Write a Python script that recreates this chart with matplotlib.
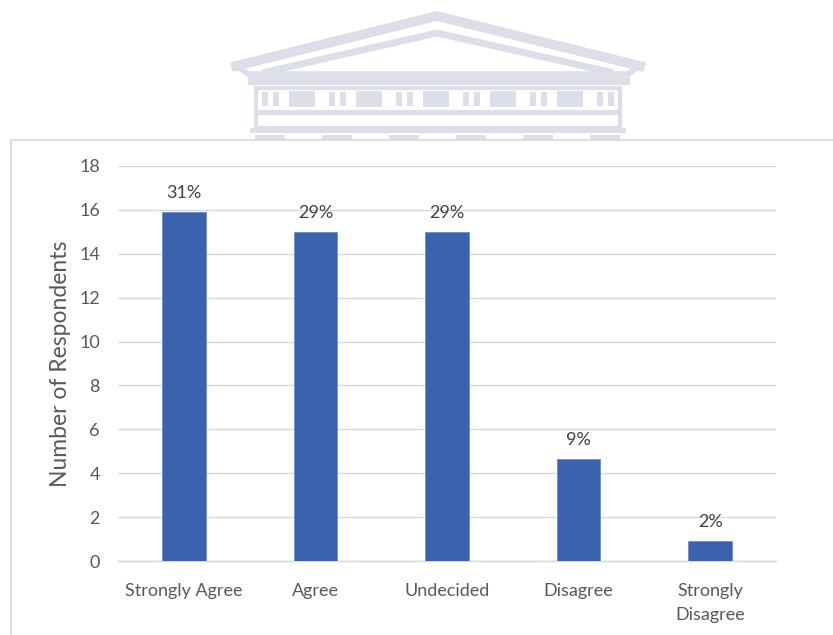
import matplotlib
matplotlib.use("Agg")
import matplotlib.pyplot as plt
from matplotlib.patches import Rectangle
from matplotlib.lines import Line2D

categories = ["Strongly Agree", "Agree", "Undecided", "Disagree", "Strongly\nDisagree"]
values = [15.9, 15.0, 15.0, 4.65, 0.93]
pct_labels = ["31%", "29%", "29%", "9%", "2%"]
yticks = [0, 2, 4, 6, 8, 10, 12, 14, 16, 18]

W, H = 833, 635
fig = plt.figure(figsize=(W / 100, H / 100), dpi=100)
plt.rcParams['font.family'] = ['Lato', 'DejaVu Sans']

# --- faint watermark (decorative) in pixel coordinates ---
wm = "#dcdfea"
def px(x, y):
    return (x / W, 1 - y / H)

def line(pts, lw):
    xs = [px(*p)[0] for p in pts]
    ys = [px(*p)[1] for p in pts]
    fig.add_artist(Line2D(xs, ys, color=wm, lw=lw, solid_joinstyle='miter', zorder=0))

def rect(x0, y0, x1, y1, fill=True, lw=0):
    (fx0, fy1) = px(x0, y0)
    (fx1, fy0) = px(x1, y1)
    fig.add_artist(Rectangle((fx0, fy0), fx1 - fx0, fy1 - fy0, facecolor=wm if fill else 'none',
                             edgecolor=wm, lw=lw, zorder=0))

line([(236, 66), (437, 16), (640, 66)], 7)
line([(266, 72), (437, 33), (610, 72)], 5)
line([(236, 66), (248, 74), (628, 74), (640, 66)], 4)
rect(248, 77, 630, 85)
rect(256, 88, 620, 128, fill=False, lw=3)
rect(256, 110, 620, 115)
for i in range(6):
    bx = 262 + i * 67
    rect(bx, 92, bx + 6, 106)
    rect(bx + 11, 92, bx + 17, 106)
    if i < 5:
        rect(bx + 27, 91, bx + 53, 107)
rect(250, 128, 626, 133)
for i in range(6):
    dx = 255 + i * 67
    rect(dx, 135, dx + 30, 140)

# --- chart frame ---
(fx0, fy1) = px(11, 140)
fig.add_artist(Rectangle((fx0, -0.01), 1.2, fy1 + 0.01, facecolor='white',
                         edgecolor='#d9d9d9', lw=1.2, zorder=1))

ax = fig.add_axes([118 / W, 1 - 561 / H, (776 - 118) / W, (561 - 166) / H], zorder=2)
ax.patch.set_alpha(0)

x = list(range(len(categories)))
ax.bar(x, values, width=0.33, color="#3a62ad", edgecolor="#6d8cc8", linewidth=0.6, zorder=3)
for xi, v, lab in zip(x, values, pct_labels):
    ax.text(xi, v + 0.5, lab, ha='center', va='bottom', fontsize=13, color='#404040')

ax.set_xlim(-0.5, len(categories) - 0.5)
ax.set_ylim(0, 18)
ax.set_yticks(yticks)
ax.yaxis.grid(True, color='#d9d9d9', lw=1)
ax.set_axisbelow(True)
for s in ['top', 'right', 'left']:
    ax.spines[s].set_visible(False)
ax.spines['bottom'].set_color('#d9d9d9')
ax.spines['bottom'].set_linewidth(1)
ax.tick_params(axis='y', length=0, labelsize=13, colors='#595959', pad=13)
ax.tick_params(axis='x', length=0, labelsize=13, colors='#595959', pad=16)
ax.set_xticks(x)
ax.set_xticklabels(categories, linespacing=1.6)
ax.set_ylabel("Number of Respondents", fontsize=16.5, color='#595959', labelpad=6)

fig.savefig("out.png", dpi=100)
